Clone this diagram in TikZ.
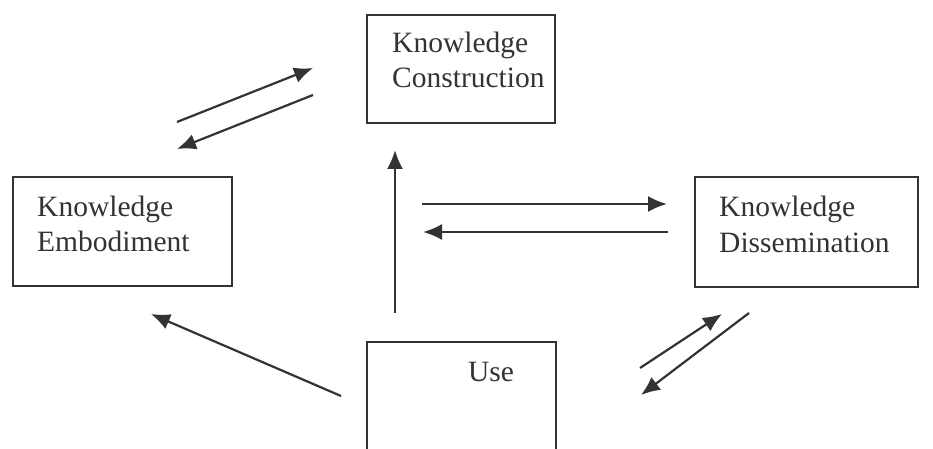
\documentclass[tikz,border=0pt]{standalone}
\usepackage{fontspec}
\setmainfont{Liberation Serif}
\usetikzlibrary{arrows.meta}
\definecolor{ink}{HTML}{333333}
\tikzset{
  box/.style={draw=ink, line width=2.8pt, inner sep=0pt},
  lbl/.style={text=ink, inner sep=0pt, font=\fontsize{29.5}{35}\selectfont},
  arr/.style={draw=ink, line width=2.2pt, -{Latex[length=19pt,width=16pt]}}
}
\begin{document}
\begin{tikzpicture}[x=1pt,y=1pt]
\clip (0,0) rectangle (933,449);
\fill[white] (0,0) rectangle (933,449);
% boxes
\node[box, minimum width=188pt, minimum height=108pt] (kc) at (461,380) {};
\node[box, minimum width=219pt, minimum height=109pt] (ke) at (122.5,217.5) {};
\node[box, minimum width=223pt, minimum height=110pt] (kd) at (806.5,217) {};
\node[box, minimum width=189pt, minimum height=117pt] (use) at (461.5,48.5) {};
% labels
\node[lbl, anchor=base west] (kc1) at (392,396) {Knowledge};
\node[lbl, anchor=base west] (kc2) at (392,361) {Construction};
\node[lbl, anchor=base west] (ke1) at (37,232) {Knowledge};
\node[lbl, anchor=base west] (ke2) at (37,197) {Embodiment};
\node[lbl, anchor=base west] (kd1) at (719,232) {Knowledge};
\node[lbl, anchor=base west] (kd2) at (719,196) {Dissemination};
\node[lbl, anchor=base] (use1) at (491,67) {Use};
% arrow end points
\coordinate (a1s) at (177,327); \coordinate (a1e) at (313,381);
\coordinate (a2s) at (313,354); \coordinate (a2e) at (177,300);
\coordinate (vs) at (395,136);  \coordinate (ve) at (395,299);
\coordinate (h1s) at (422,245); \coordinate (h1e) at (667,245);
\coordinate (h2s) at (668,217); \coordinate (h2e) at (423,217);
\coordinate (ds) at (341,53);   \coordinate (de) at (151,135);
\coordinate (b1s) at (640,81);  \coordinate (b1e) at (722,135);
\coordinate (b2s) at (749,136); \coordinate (b2e) at (641,54);
% arrows
\draw[arr] (a1s) -- (a1e);
\draw[arr] (a2s) -- (a2e);
\draw[arr] (vs) -- (ve);
\draw[arr] (h1s) -- (h1e);
\draw[arr] (h2s) -- (h2e);
\draw[arr] (ds) -- (de);
\draw[arr] (b1s) -- (b1e);
\draw[arr] (b2s) -- (b2e);
\end{tikzpicture}
\end{document}
